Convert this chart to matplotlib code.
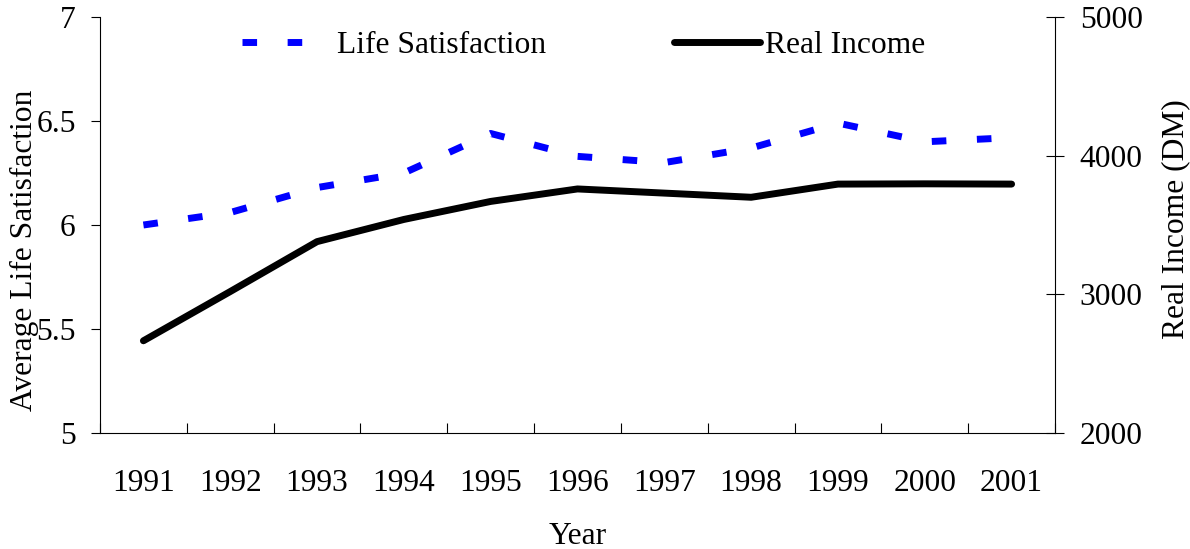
import matplotlib
matplotlib.use('Agg')
import matplotlib.pyplot as plt
import numpy as np

years = ['1991', '1992', '1993', '1994', '1995', '1996', '1997', '1998', '1999', '2000', '2001']
life_satisfaction = [6.00, 6.06, 6.18, 6.25, 6.44, 6.33, 6.30, 6.37, 6.49, 6.40, 6.42]
real_income = [2665, 3020, 3380, 3540, 3670, 3760, 3730, 3700, 3795, 3797, 3795]
left_ticks = [5, 5.5, 6, 6.5, 7]
left_tick_labels = ['5', '5.5', '6', '6.5', '7']
right_ticks = [2000, 3000, 4000, 5000]
right_tick_labels = ['2000', '3000', '4000', '5000']

plt.rcParams['font.family'] = ['Liberation Serif', 'DejaVu Serif']
fs = 22.7

W, H = 1190, 549
fig = plt.figure(figsize=(W / 100, H / 100), dpi=100)
ax = fig.add_axes([100 / W, 1 - 433 / H, 955 / W, 416 / H])
ax2 = ax.twinx()

x = np.arange(len(years))
ls_line, = ax.plot(x, life_satisfaction, color='#0000FF', lw=5,
                   linestyle=(0, (2.1, 4.4)), dash_capstyle='butt')
inc_line, = ax2.plot(x, real_income, color='black', lw=5,
                     solid_capstyle='round', solid_joinstyle='round')

ax.set_xlim(-0.5, len(years) - 0.5)
ax.set_ylim(5, 7)
ax2.set_ylim(2000, 5000)

# x axis
ax.set_xticks(x)
ax.set_xticklabels(years, fontsize=fs)
ax.set_xticks(np.arange(-0.5, len(years), 1.0), minor=True)
ax.tick_params(axis='x', which='major', length=0, pad=26)
ax.tick_params(axis='x', which='minor', direction='in', length=7.5, width=0.8, color='black')

# left y
ax.set_yticks(left_ticks)
ax.set_yticklabels(left_tick_labels, fontsize=fs)
ax.tick_params(axis='y', which='major', direction='out', length=6.5, width=0.8, pad=11)

# right y
ax2.set_yticks(right_ticks)
ax2.set_yticklabels(right_tick_labels, fontsize=fs)
ax2.tick_params(axis='y', which='major', direction='inout', length=13.5, width=0.8, pad=11)

for s in ['top', 'right']:
    ax.spines[s].set_visible(False)
for s in ['top', 'left', 'bottom']:
    ax2.spines[s].set_visible(False)
for sp in [ax.spines['left'], ax.spines['bottom'], ax2.spines['right']]:
    sp.set_linewidth(0.8)
    sp.set_color('black')

ax.set_xlabel('Year', fontsize=fs)
ax.xaxis.set_label_coords(0.5, -0.214)
ax.set_ylabel('Average Life Satisfaction', fontsize=fs)
ax.yaxis.set_label_coords(-0.064, 0.44)
ax2.set_ylabel('Real Income (DM)', fontsize=fs)
ax2.yaxis.set_label_coords(1.111, 0.514)

fig.legend(handles=[ls_line], labels=['Life Satisfaction'], loc='center left',
           bbox_to_anchor=(242 / W, 1 - 45 / H), frameon=False,
           handlelength=1.96, handletextpad=1.05, borderpad=0, borderaxespad=0,
           fontsize=fs)
fig.legend(handles=[inc_line], labels=['Real Income'], loc='center left',
           bbox_to_anchor=(674 / W, 1 - 45 / H), frameon=False,
           handlelength=2.73, handletextpad=0.17, borderpad=0, borderaxespad=0,
           fontsize=fs)

fig.savefig('out.png', dpi=100)
